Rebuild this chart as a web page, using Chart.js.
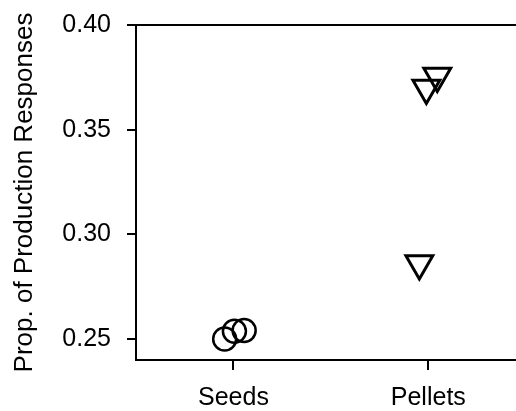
<!DOCTYPE html>
<html>
<head>
<meta charset="utf-8">
<script src="https://cdn.jsdelivr.net/npm/chart.js@4"></script>
<style>
  html, body { margin: 0; padding: 0; background: #fff; }
  #wrap { width: 516px; height: 411px; }
</style>
</head>
<body>
<div id="wrap"><canvas id="chart"></canvas></div>
<script>
// categories on the x axis (positions 1 and 2)
const categories = ['Seeds', 'Pellets'];
const categoryPos = [1, 2];

// jittered points
const seedsX = [0.955, 1.005, 1.055];
const seedsY = [0.2500, 0.2537, 0.2541];
const pelletsX = [1.954, 1.990, 2.046];
const pelletsY = [0.2861, 0.3699, 0.3756];

const yTicks = [0.25, 0.30, 0.35, 0.40];

const FONT = 'Liberation Sans, Arial, sans-serif';

// top frame line (the box is open on the right, cut by the crop)
const topLine = {
    id: 'topLine',
    afterDraw(chart) {
        const a = chart.chartArea, c = chart.ctx;
        c.save();
        c.strokeStyle = '#000';
        c.lineWidth = 2;
        c.beginPath();
        c.moveTo(a.left, a.top);
        c.lineTo(a.right, a.top);
        c.stroke();
        c.restore();
    }
};

const ctx = document.getElementById('chart').getContext('2d');
new Chart(ctx, {
    type: 'scatter',
    data: {
        datasets: [{
            label: 'Seeds',
            data: seedsX.map((x, i) => ({ x: x, y: seedsY[i] })),
            pointStyle: 'circle',
            pointRadius: 11.5,
            borderWidth: 2.5,
            borderColor: '#000',
            backgroundColor: 'rgba(0,0,0,0)'
        }, {
            label: 'Pellets',
            data: pelletsX.map((x, i) => ({ x: x, y: pelletsY[i] })),
            pointStyle: 'triangle',
            rotation: 180,
            pointRadius: 15.5,
            borderWidth: 3,
            borderColor: '#000',
            backgroundColor: 'rgba(0,0,0,0)'
        }]
    },
    options: {
        responsive: true,
        maintainAspectRatio: false,
        animation: false,
        events: [],
        layout: { autoPadding: false, padding: { top: 25, left: 0, right: 0, bottom: 0 } },
        plugins: { legend: { display: false }, tooltip: { enabled: false } },
        scales: {
            x: {
                type: 'linear',
                min: 0.5,
                max: 2.45,
                afterFit: s => { s.height = 51; s.paddingLeft = 0; s.paddingRight = 0; },
                afterBuildTicks: s => { s.ticks = categoryPos.map(v => ({ value: v })); },
                grid: { display: true, drawOnChartArea: false, drawTicks: true, tickLength: 10, color: '#000', lineWidth: 2 },
                border: { display: true, color: '#000', width: 2 },
                ticks: {
                    color: '#000',
                    font: { family: FONT, size: 25 },
                    padding: 13,
                    maxRotation: 0,
                    callback: v => categories[categoryPos.indexOf(v)] || ''
                }
            },
            y: {
                min: 0.24,
                max: 0.40,
                afterFit: s => { s.width = 136; s.paddingTop = 0; s.paddingBottom = 0; },
                afterBuildTicks: s => { s.ticks = yTicks.map(v => ({ value: v })); },
                grid: { display: true, drawOnChartArea: false, drawTicks: true, tickLength: 9, color: '#000', lineWidth: 2 },
                border: { display: true, color: '#000', width: 2 },
                ticks: {
                    color: '#000',
                    font: { family: FONT, size: 25 },
                    padding: 16,
                    callback: v => v.toFixed(2)
                },
                title: {
                    display: true,
                    text: 'Prop. of Production Responses',
                    color: '#000',
                    font: { family: FONT, size: 26 },
                    padding: { top: 9, bottom: 0 }
                }
            }
        }
    },
    plugins: [topLine]
});
</script>
</body>
</html>
